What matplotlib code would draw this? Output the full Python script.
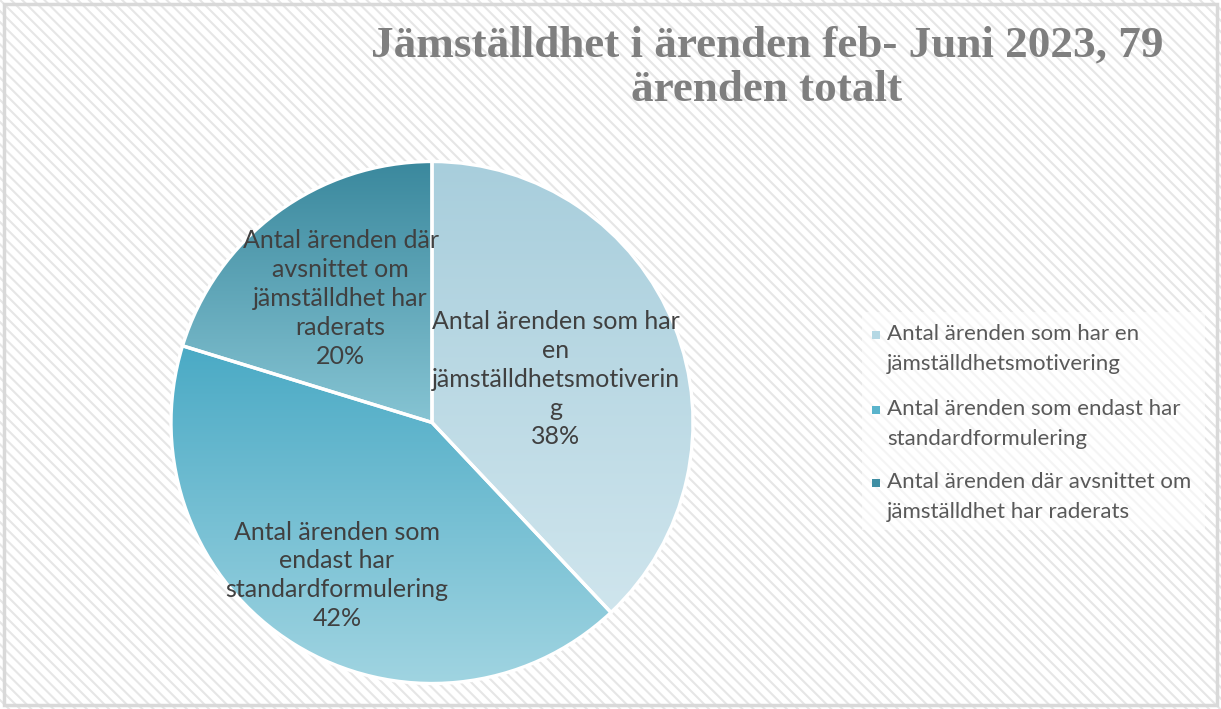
import numpy as np
import matplotlib
matplotlib.use("Agg")
import matplotlib.pyplot as plt
from matplotlib.colors import to_rgb
from matplotlib.patches import Rectangle

# data
categories = ["Antal ärenden som har en jämställdhetsmotivering",
              "Antal ärenden som endast har standardformulering",
              "Antal ärenden där avsnittet om jämställdhet har raderats"]
counts = [30, 33, 16]
slice_labels = ["Antal ärenden som har\nen\njämställdhetsmotiverin\ng",
                "Antal ärenden som\nendast har\nstandardformulering",
                "Antal ärenden där\navsnittet om\njämställdhet har\nraderats"]
legend_labels = ["Antal ärenden som har en\njämställdhetsmotivering",
                 "Antal ärenden som endast har\nstandardformulering",
                 "Antal ärenden där avsnittet om\njämställdhet har raderats"]
title = "Jämställdhet i ärenden feb- Juni 2023, 79\närenden totalt"

# styling
top_colors = ["#a8cedc", "#4aaac5", "#3a889d"]
bottom_colors = ["#cfe5ed", "#a0d4e1", "#86c4d3"]
legend_colors = ["#b5d8e4", "#5ab4cc", "#3f8ea3"]
label_dist = [0.51, 0.69, 0.59]
label_dy = [-0.022, 0, 0]

fig = plt.figure(figsize=(12.21, 7.09), dpi=100)

# hatched background
plt.rcParams["hatch.linewidth"] = 1.5
bg = fig.add_axes([0, 0, 1, 1])
bg.set_xlim(0, 1)
bg.set_ylim(0, 1)
bg.axis("off")
bg.add_patch(Rectangle((0, 0), 1, 1, facecolor="white", edgecolor="#e6e6e6",
                       linewidth=0, hatch="\\\\\\", transform=bg.transAxes))
bg.add_patch(Rectangle((0.003, 0.005), 0.994, 0.99, facecolor="none",
                       edgecolor="#d9d9d9", linewidth=2.5, transform=bg.transAxes))

# legend box (semi transparent)
bg.add_patch(Rectangle((862 / 1221, 1 - 530 / 709), 343 / 1221, 218 / 709,
                       facecolor="white", alpha=0.6, edgecolor="none"))

ax = fig.add_axes([0.14005, 0.03597, 0.42752, 0.73625])
wedges, _ = ax.pie(counts, startangle=90, counterclock=False, radius=1,
                   wedgeprops=dict(facecolor="none", edgecolor="white", linewidth=2.4))
ax.set_aspect("equal")
ax.axis("off")

total = sum(counts)
start = 90.0
for i, w in enumerate(wedges):
    ext = w.get_path().get_extents()
    t = np.array(to_rgb(top_colors[i]))
    b = np.array(to_rgb(bottom_colors[i]))
    f = np.linspace(0, 1, 256)[:, None, None]
    grad = t * (1 - f) + b * f
    im = ax.imshow(grad, extent=[ext.x0, ext.x1, ext.y0, ext.y1], origin="upper",
                   aspect="auto", zorder=0.5)
    im.set_clip_path(w)
    w.set_zorder(1)
    w.set_clip_on(False)
    span = counts[i] / total * 360
    mid = np.deg2rad(start - span / 2)
    start -= span
    pct = round(counts[i] / total * 100)
    ax.text(label_dist[i] * np.cos(mid), label_dist[i] * np.sin(mid) + label_dy[i],
            slice_labels[i] + "\n" + f"{pct}%", ha="center", va="center",
            fontsize=18, family="Lato", color="#404040", linespacing=1.31,
            zorder=3)
ax.set_xlim(-1, 1)
ax.set_ylim(-1, 1)

# title
fig.text(767 / 1221, 1 - 68 / 709, title, ha="center", va="center",
         fontsize=32.5, fontweight="bold", family="Liberation Serif",
         color="#7f7f7f", linespacing=1.14)

# legend
legend_y = [349, 424, 497]
for i, lab in enumerate(legend_labels):
    y = 1 - legend_y[i] / 709
    bg.add_patch(Rectangle((872 / 1221, 1 - (legend_y[i] - 10) / 709), 8 / 1221, 8 / 709,
                           facecolor=legend_colors[i], edgecolor="none"))
    fig.text(887 / 1221, y, lab, ha="left", va="center", fontsize=16,
             family="Lato", color="#595959", linespacing=1.6)

fig.savefig("out.png", dpi=100)
